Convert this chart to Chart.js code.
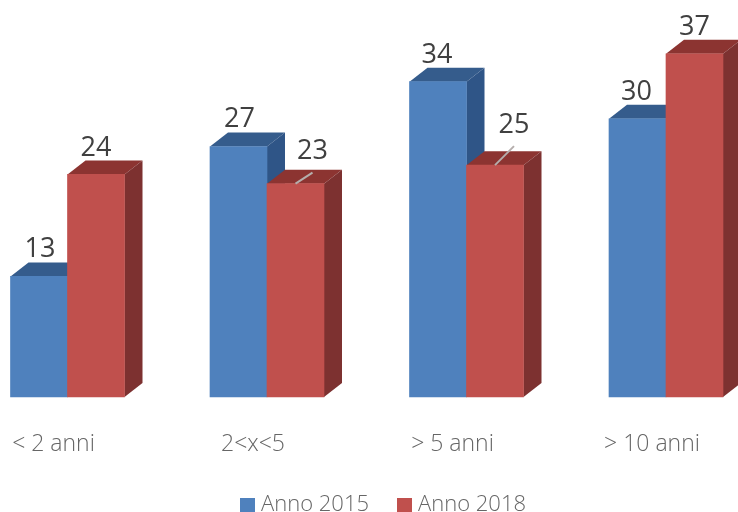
<!DOCTYPE html>
<html>
<head>
<meta charset="utf-8">
<title>Anni</title>
<script src="https://cdn.jsdelivr.net/npm/chart.js@4/dist/chart.umd.min.js"></script>
<style>
    html, body { margin: 0; padding: 0; background: #fff; width: 738px; height: 512px; overflow: hidden; }
    canvas { display: block; }
</style>
</head>
<body>
<canvas id="chart" width="771" height="526"></canvas>
<script>
// Values
const categories = ['< 2 anni', '2<x<5', '> 5 anni', '> 10 anni'];
const seriesNames = ['Anno 2015', 'Anno 2018'];
const values2015 = [13, 27, 34, 30];
const values2018 = [24, 23, 25, 37];

const FONT = '"Open Sans", sans-serif';
const TEXT_GREY = '#666666';

// Colours of each bar: front, top, side
const faces = [
    { front: '#4f81bd', top: '#355c8c', side: '#2f5587' },
    { front: '#c0504d', top: '#8c3431', side: '#7d3130' }
];
const DEPTH_X = 18;
const DEPTH_Y = 14;

// Where the value labels sit compared to the top of their bar
const labelLift = [[27, 27, 26, 26], [26, 32, 40, 27]];
const labelShift = [[1, 1, -1, -1], [0, 17, 19, 0]];

function drawDepth(ctx, bar, colors) {
    const left = bar.x - bar.width / 2;
    const right = bar.x + bar.width / 2;
    const top = bar.y;
    const bottom = bar.base;

    ctx.fillStyle = colors.top;
    ctx.beginPath();
    ctx.moveTo(left, top);
    ctx.lineTo(left + DEPTH_X, top - DEPTH_Y);
    ctx.lineTo(right + DEPTH_X, top - DEPTH_Y);
    ctx.lineTo(right, top);
    ctx.closePath();
    ctx.fill();

    ctx.fillStyle = colors.side;
    ctx.beginPath();
    ctx.moveTo(right, top);
    ctx.lineTo(right + DEPTH_X, top - DEPTH_Y);
    ctx.lineTo(right + DEPTH_X, bottom - DEPTH_Y);
    ctx.lineTo(right, bottom);
    ctx.closePath();
    ctx.fill();
}

// Fake 3D. Chart.js paints the last dataset first, here the red bars must
// cover the blue ones, so the bars are painted in dataset order instead
const bar3dPlugin = {
    id: 'bar3d',
    beforeDatasetsDraw(chart) {
        const ctx = chart.ctx;
        chart.data.datasets.forEach((dataset, d) => {
            const meta = chart.getDatasetMeta(d);
            ctx.save();
            meta.data.forEach(bar => drawDepth(ctx, bar, faces[d]));
            ctx.restore();
            meta.data.forEach(bar => bar.draw(ctx));
        });
        return false;
    },
    afterDraw(chart) {
        const ctx = chart.ctx;
        ctx.save();
        ctx.font = '400 27px ' + FONT;
        ctx.fillStyle = '#404040';
        ctx.textAlign = 'center';
        ctx.textBaseline = 'middle';
        chart.data.datasets.forEach((dataset, d) => {
            chart.getDatasetMeta(d).data.forEach((bar, i) => {
                const x = bar.x + labelShift[d][i];
                const y = bar.y - labelLift[d][i];
                ctx.fillText(String(dataset.data[i]), x, y);

                // leader line when the label was moved away from its bar
                if (labelShift[d][i] > 5) {
                    ctx.strokeStyle = '#b5aeac';
                    ctx.lineWidth = 2;
                    ctx.beginPath();
                    ctx.moveTo(bar.x, bar.y);
                    ctx.lineTo(x, y + 21);
                    ctx.stroke();
                }
            });
        });
        ctx.restore();
    }
};

// Legend swatch as a small canvas, keeps the gap to the text tight
function swatch(color) {
    const c = document.createElement('canvas');
    c.width = 15;
    c.height = 15;
    const g = c.getContext('2d');
    g.fillStyle = color;
    g.fillRect(0, 0, 15, 15);
    return c;
}

new Chart(document.getElementById('chart'), {
    type: 'bar',
    data: {
        labels: categories,
        datasets: [
            { label: seriesNames[0], data: values2015, backgroundColor: faces[0].front },
            { label: seriesNames[1], data: values2018, backgroundColor: faces[1].front }
        ]
    },
    plugins: [bar3dPlugin],
    options: {
        responsive: false,
        animation: false,
        barThickness: 57,
        layout: { padding: { left: 0, right: 0, top: 26, bottom: 0 } },
        plugins: {
            tooltip: { enabled: false },
            legend: {
                position: 'bottom',
                labels: {
                    usePointStyle: true,
                    boxWidth: 5,
                    boxHeight: 15,
                    padding: 33,
                    color: TEXT_GREY,
                    font: { family: FONT, size: 22, weight: '300' },
                    generateLabels: chart => chart.data.datasets.map((d, i) => ({
                        text: d.label,
                        datasetIndex: i,
                        pointStyle: swatch(d.backgroundColor),
                        fontColor: TEXT_GREY,
                        lineWidth: 0
                    }))
                }
            }
        },
        scales: {
            x: {
                offset: false,
                grid: { display: false },
                border: { display: false },
                // margins on the scale, so the legend stays centred on the canvas
                afterFit: scale => {
                    scale.height = 64;
                    scale.paddingLeft = 67.5;
                    scale.paddingRight = 105;
                },
                ticks: {
                    autoSkip: false,
                    maxRotation: 0,
                    padding: 26,
                    labelOffset: -14,
                    color: TEXT_GREY,
                    font: { family: FONT, size: 23, weight: '300' }
                }
            },
            y: { display: false, min: 0, max: 40 }
        }
    }
});
</script>
</body>
</html>
